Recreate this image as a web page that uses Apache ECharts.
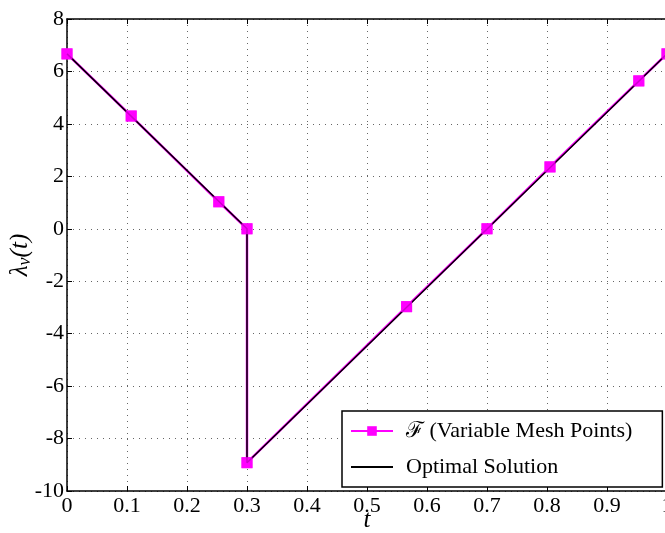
<!DOCTYPE html>
<html>
<head>
    <meta charset="utf-8">
    <title>lambda_v(t)</title>
    <script src="https://cdn.jsdelivr.net/npm/echarts@6/dist/echarts.min.js"></script>
    <style>
        html, body { margin: 0; padding: 0; background: #fff; }
        #chart { width: 665px; height: 533px; }
    </style>
</head>
<body>
<div id="chart"></div>
<script type="text/javascript">
    // 可变网格点 (F)
    var meshT = [0, 0.107, 0.253, 0.3, 0.3, 0.566, 0.7, 0.805, 0.953, 1.0];
    var meshL = [6.67, 4.3, 1.03, 0, -8.92, -2.97, 0, 2.36, 5.64, 6.67];
    // 最优解
    var optT = [0, 0.3, 0.3, 1.0];
    var optL = [6.67, 0, -8.92, 6.67];

    var xTicks = ['0', '0.1', '0.2', '0.3', '0.4', '0.5', '0.6', '0.7', '0.8', '0.9', '1'];

    function pairs(xs, ys) {
        var out = [];
        for (var i = 0; i < xs.length; i++) out.push([xs[i], ys[i]]);
        return out;
    }

    var font = 'Liberation Serif';
    var gridLine = { show: true, lineStyle: { color: '#666', type: [1, 5], width: 1 } };

    var myChart = echarts.init(document.getElementById('chart'));
    myChart.setOption({
        animation: false,
        grid: { left: 67, right: -2, top: 19, bottom: 42, outerBoundsMode: 'none', containLabel: false },
        legend: {
            left: 342, top: 411,
            orient: 'vertical',
            data: [
                { name: 'ℱ (Variable Mesh Points)' },
                { name: 'Optimal Solution', itemStyle: { opacity: 0 } }
            ],
            backgroundColor: '#fff',
            borderColor: '#000', borderWidth: 1.5, borderRadius: 0,
            padding: [9, 30, 9, 8],
            itemWidth: 42, itemHeight: 12, itemGap: 14,
            textStyle: { fontFamily: font, fontSize: 22, color: '#000', padding: [0, 0, 0, 8] }
        },
        xAxis: [{
            type: 'value', min: 0, max: 1, interval: 0.1,
            name: 't', nameLocation: 'middle', nameGap: 17, nameMoveOverlap: false,
            nameTextStyle: { fontFamily: font, fontSize: 25, fontStyle: 'italic', color: '#000' },
            axisLine: { onZero: false, lineStyle: { color: '#000', width: 1.5 } },
            axisTick: { inside: true, length: 5, lineStyle: { color: '#000' } },
            axisLabel: {
                fontFamily: font, fontSize: 22, color: '#000', margin: 4,
                formatter: function (v) { return xTicks[Math.round(v * 10)]; }
            },
            splitLine: gridLine
        }, {
            type: 'value', position: 'top', min: 0, max: 1, interval: 0.1,
            axisLine: { onZero: false, lineStyle: { color: '#000', width: 1.5 } },
            axisTick: { inside: true, length: 5, lineStyle: { color: '#000' } },
            axisLabel: { show: false }, splitLine: { show: false }
        }],
        yAxis: [{
            type: 'value', min: -10, max: 8, interval: 2,
            name: '{l|λ}{s|v}{l|(t)}', nameLocation: 'middle', nameGap: 33, nameRotate: 90,
            nameMoveOverlap: false,
            nameTextStyle: {
                color: '#000',
                rich: {
                    l: { fontFamily: font, fontSize: 25, fontStyle: 'italic', color: '#000' },
                    s: { fontFamily: font, fontSize: 18, fontStyle: 'italic', color: '#000', padding: [10, 0, 0, 0] }
                }
            },
            axisLine: { onZero: false, lineStyle: { color: '#000', width: 1.5 } },
            axisTick: { inside: true, length: 5, lineStyle: { color: '#000' } },
            axisLabel: { fontFamily: font, fontSize: 22, color: '#000', margin: 3 },
            splitLine: gridLine
        }],
        series: [{
            name: 'ℱ (Variable Mesh Points)',
            type: 'line',
            data: pairs(meshT, meshL),
            symbol: 'rect', symbolSize: 11,
            itemStyle: { color: '#ff00ff' },
            lineStyle: { color: '#ff00ff', width: 2.5 },
            z: 2
        }, {
            name: 'Optimal Solution',
            type: 'line',
            data: pairs(optT, optL),
            symbol: 'none',
            itemStyle: { color: '#000' },
            lineStyle: { color: '#000', width: 1.5 },
            z: 3
        }, {
            name: 'markers',
            type: 'scatter',
            data: pairs(meshT, meshL),
            symbol: 'rect', symbolSize: 11,
            itemStyle: { color: '#ff00ff' },
            z: 4
        }]
    });
</script>
</body>
</html>
